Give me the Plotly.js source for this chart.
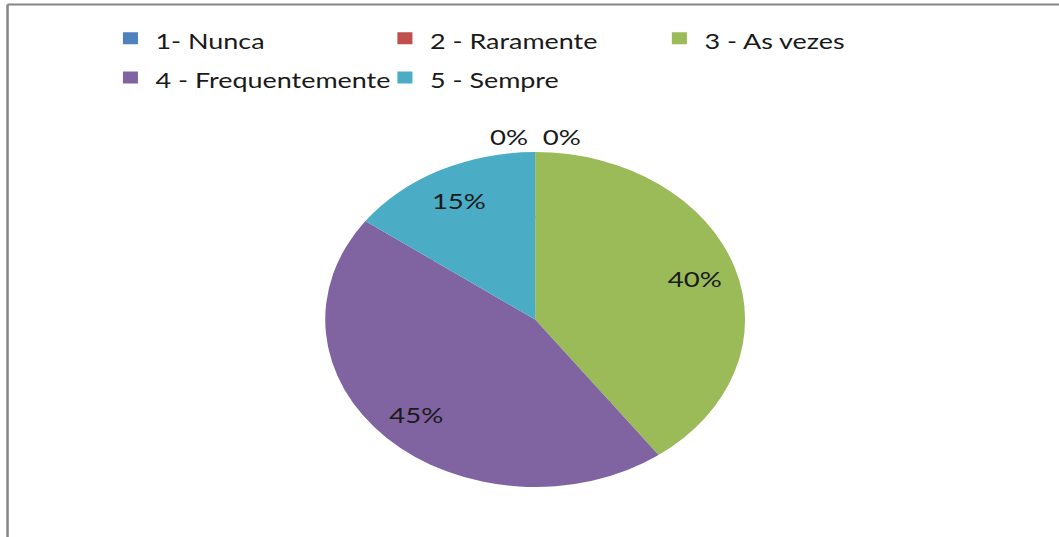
<!DOCTYPE html>
<html>
<head>
<meta charset="utf-8">
<script src="https://cdn.plot.ly/plotly-3.0.1.min.js"></script>
<style>
html, body { margin: 0; padding: 0; background: #ffffff; overflow: hidden; }
#wrap { width: 1059px; height: 537px; overflow: hidden; }
#chart { width: 845px; height: 537px; transform: scaleX(1.2533); transform-origin: 0 0; }
</style>
</head>
<body>
<div id="wrap"><div id="chart"></div></div>
<script>
const categories = ["1- Nunca", "2 - Raramente", "3 - As vezes", "4 - Frequentemente", "5 - Sempre"];
const values = [0, 0, 40, 45, 15];
const colors = ["#4F81BD", "#C0504D", "#9BBB59", "#8064A2", "#4BACC6"];

const FONT = "Lato, 'DejaVu Sans', sans-serif";
const W = 845, H = 537;
const cx = 427, cyTop = 319.5, R = 167.5;   // pie centre / radius in px (unscaled)
const HOLE = 0.6;
const cyB = H - cyTop;

const total = values.reduce((a, b) => a + b, 0);
const pctText = values.map(v => Math.round(v / total * 100) + "%");

function dom(r) {
  return {
    x: [(cx - r - 20) / W, (cx + r + 20) / W],
    y: [(cyB - r) / H, (cyB + r) / H]
  };
}

// inner filler pie (no text) drawn first, outer ring carries the labels
const inner = {
  type: "pie",
  labels: categories,
  values: values,
  sort: false,
  direction: "clockwise",
  rotation: 0,
  marker: { colors: colors, line: { width: 0 } },
  textinfo: "none",
  showlegend: false,
  domain: dom(R * HOLE + 3),
  hoverinfo: "skip"
};

const ring = {
  type: "pie",
  labels: categories.map(c => '<span style="font-size:21.5px">' + c + '</span>'),
  values: values,
  sort: false,
  direction: "clockwise",
  rotation: 0,
  hole: HOLE,
  marker: { colors: colors, line: { width: 0 } },
  textinfo: "percent",
  texttemplate: "%{percent:.0%}",
  textposition: values.map(v => v > 0 ? "inside" : "none"),
  insidetextorientation: "horizontal",
  textfont: { family: FONT, size: 22, color: "#1a1a1a" },
  domain: dom(R),
  automargin: false,
  hoverinfo: "label+percent"
};

// labels of the zero-value slices, side by side above the top of the pie
const zeroIdx = values.map((v, i) => v === 0 ? i : -1).filter(i => i >= 0);
const annotations = zeroIdx.map((i, k) => ({
  xref: "paper", yref: "paper",
  x: (cx + (k === 0 ? -21 : 21)) / W,
  y: (cyB + R * 1.09) / H,
  xanchor: "center", yanchor: "middle",
  text: pctText[i],
  showarrow: false,
  font: { family: FONT, size: 22, color: "#1a1a1a" }
}));

const layout = {
  width: W,
  height: H,
  margin: { l: 0, r: 0, t: 0, b: 0 },
  paper_bgcolor: "#ffffff",
  plot_bgcolor: "#ffffff",
  font: { family: FONT, size: 22, color: "#1a1a1a" },
  showlegend: true,
  legend: {
    orientation: "h",
    x: 0.0995, xanchor: "left",
    y: 0.975, yanchor: "top",
    entrywidth: 174, entrywidthmode: "pixels",
    traceorder: "normal",
    font: { family: FONT, size: 28, color: "#1a1a1a" },
    itemclick: false, itemdoubleclick: false
  },
  annotations: annotations,
  shapes: [
    { type: "line", xref: "paper", yref: "paper", x0: 0.0071, x1: 1, y0: 0.9916, y1: 0.9916, line: { color: "#868686", width: 2 } },
    { type: "line", xref: "paper", yref: "paper", x0: 0.0071, x1: 0.0071, y0: 0, y1: 0.9916, line: { color: "#868686", width: 2 } }
  ]
};

Plotly.newPlot("chart", [inner, ring], layout, { displayModeBar: false, staticPlot: true });
</script>
</body>
</html>
